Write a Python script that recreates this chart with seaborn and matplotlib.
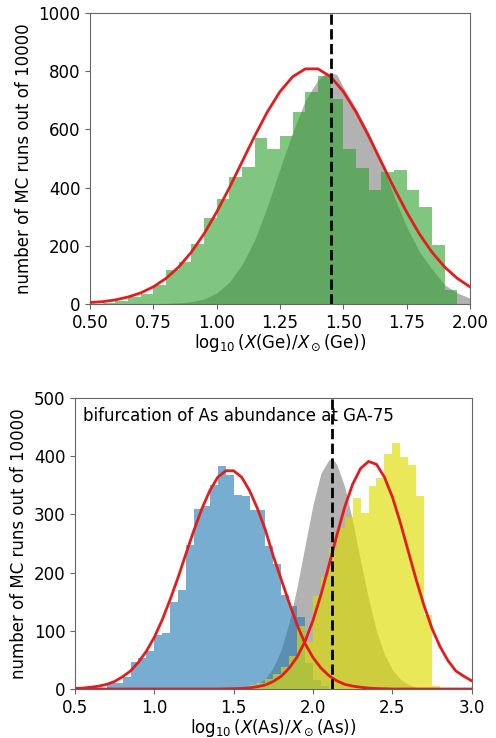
import numpy as np
import pandas as pd
import matplotlib
matplotlib.use("Agg")
import matplotlib.pyplot as plt
import seaborn as sns

# ---------------- data: top panel (Ge) ----------------
ge_bin_left = [0.55, 0.60, 0.65, 0.70, 0.75, 0.80, 0.85, 0.90, 0.95, 1.00,
               1.05, 1.10, 1.15, 1.20, 1.25, 1.30, 1.35, 1.40, 1.45, 1.50,
               1.55, 1.60, 1.65, 1.70, 1.75, 1.80, 1.85, 1.90]
ge_counts = [2, 10, 24, 35, 67, 117, 145, 206, 296, 361,
             436, 470, 571, 532, 579, 660, 729, 783, 706, 531,
             466, 392, 452, 460, 393, 334, 203, 48]

ge_gray_x = [0.70, 0.75, 0.80, 0.85, 0.90, 0.95, 1.00, 1.05, 1.10, 1.15, 1.20,
             1.25, 1.30, 1.35, 1.40, 1.425, 1.45, 1.475, 1.50, 1.55, 1.60, 1.65,
             1.70, 1.75, 1.80, 1.85, 1.90, 1.95, 2.00, 2.05]
ge_gray_y = [0, 1, 2, 4, 8, 17, 38, 75, 135, 220, 335,
             465, 590, 700, 770, 790, 795, 788, 745, 672, 590, 490,
             370, 265, 180, 120, 66, 38, 20, 9]

ge_fit_x = [0.50, 0.55, 0.60, 0.65, 0.70, 0.75, 0.80, 0.85, 0.90, 0.95, 1.00,
            1.05, 1.10, 1.15, 1.20, 1.25, 1.30, 1.35, 1.40, 1.45, 1.50,
            1.55, 1.60, 1.65, 1.70, 1.75, 1.80, 1.85, 1.90, 1.95, 2.00]
ge_fit_y = [5, 8, 14, 24, 38, 59, 88, 127, 178, 241, 316,
            399, 488, 577, 660, 730, 781, 808, 808, 781, 730,
            660, 577, 488, 399, 316, 241, 178, 127, 88, 59]
ge_solar = 1.45

# ---------------- data: bottom panel (As) ----------------
as_blue_left = [0.70, 0.75, 0.80, 0.85, 0.90, 0.95, 1.00, 1.05, 1.10, 1.15,
                1.20, 1.25, 1.30, 1.35, 1.40, 1.45, 1.50, 1.55, 1.60, 1.65,
                1.70, 1.75, 1.80, 1.85, 1.90, 1.95, 2.00, 2.05]
as_blue_counts = [10, 10, 20, 47, 54, 66, 93, 96, 149, 170,
                  248, 310, 315, 350, 383, 368, 333, 331, 307, 307,
                  245, 215, 161, 142, 123, 45, 15, 5]

as_yellow_left = [1.60, 1.65, 1.70, 1.75, 1.80, 1.85, 1.90, 1.95, 2.00, 2.05,
                  2.10, 2.15, 2.20, 2.25, 2.30, 2.35, 2.40, 2.45, 2.50, 2.55,
                  2.60, 2.65, 2.70, 2.75]
as_yellow_counts = [7, 11, 18, 26, 38, 57, 108, 81, 159, 193,
                    242, 276, 295, 328, 303, 349, 362, 404, 422, 399,
                    385, 332, 128, 5]

as_gray_x = [1.50, 1.55, 1.60, 1.65, 1.70, 1.75, 1.80, 1.85, 1.90, 1.95, 2.00,
             2.05, 2.10, 2.125, 2.15, 2.20, 2.25, 2.30, 2.35, 2.40, 2.45,
             2.50, 2.55, 2.60, 2.65, 2.70, 2.75]
as_gray_y = [0, 1, 3, 8, 18, 37, 68, 115, 176, 247, 317,
             371, 394, 395, 386, 347, 288, 220, 155, 100, 60,
             33, 17, 8, 3, 1, 0]

as_fit_x = [0.50, 0.55, 0.60, 0.65, 0.70, 0.75, 0.80, 0.85, 0.90, 0.95,
            1.00, 1.05, 1.10, 1.15, 1.20, 1.25, 1.30, 1.35, 1.40, 1.45,
            1.50, 1.55, 1.60, 1.65, 1.70, 1.75, 1.80, 1.85, 1.90, 1.95,
            2.00, 2.05, 2.10, 2.15, 2.20, 2.25, 2.30, 2.35, 2.40, 2.45,
            2.50, 2.55, 2.60, 2.65, 2.70, 2.75, 2.80, 2.85, 2.90, 2.95, 3.00]
as_fit1_y = [0.9, 1.6, 3, 5, 8, 13, 21, 31, 46, 65,
             89, 119, 154, 192, 233, 273, 310, 341, 364, 375,
             375, 364, 341, 310, 273, 228, 188, 148, 110, 78,
             54, 36, 23, 14, 8, 5, 3, 1.5, 0.8, 0.4,
             0, 0, 0, 0, 0, 0, 0, 0, 0, 0, 0]
as_fit2_y = [0, 0, 0, 0, 0, 0, 0, 0, 0, 0,
             0, 0, 0, 0, 0, 0, 0, 0, 0.1, 0.3,
             0.5, 1, 2, 4, 7, 13, 22, 36, 55, 82,
             118, 162, 212, 264, 313, 352, 379, 391, 386, 364,
             330, 286, 237, 188, 143, 104, 73, 49, 31, 22, 14]
as_solar = 2.12

BIN_W = 0.05
as_note = "bifurcation of As abundance at GA-75"
ylab = "number of MC runs out of 10000"

# ---------------- figure ----------------
plt.rcParams["font.family"] = ["DejaVu Sans"]
plt.rcParams["font.size"] = 12
plt.rcParams["mathtext.fontset"] = "dejavusans"
plt.rcParams["axes.edgecolor"] = "0.4"
plt.rcParams["xtick.color"] = "0.4"
plt.rcParams["ytick.color"] = "0.4"
plt.rcParams["xtick.labelcolor"] = "black"
plt.rcParams["ytick.labelcolor"] = "black"

fig = plt.figure(figsize=(4.96, 7.38), dpi=100)
ax1 = fig.add_axes([90 / 496, 1 - 304 / 738, 380 / 496, 291 / 738])
ax2 = fig.add_axes([75 / 496, 1 - 689 / 738, 396.7 / 496, 291 / 738])

red = "#e21d1d"


def hist(ax, lefts, counts, color, alpha, z):
    lefts = np.asarray(lefts, dtype=float)
    df = pd.DataFrame({"center": lefts + BIN_W / 2,
                       "count": np.asarray(counts, dtype=float)})
    sns.histplot(data=df, x="center", weights="count", binwidth=BIN_W,
                 binrange=(lefts[0], lefts[-1] + BIN_W), ax=ax, color=color,
                 alpha=alpha, linewidth=0, edgecolor="none", zorder=z)


# top panel
ax1.fill_between(ge_gray_x, ge_gray_y, 0, color="gray", alpha=0.6, lw=0, zorder=1)
hist(ax1, ge_bin_left, ge_counts, "#2ca02c", 0.6, 2)
sns.lineplot(x=ge_fit_x, y=ge_fit_y, ax=ax1, color=red, lw=2, zorder=4)
ax1.axvline(ge_solar, color="black", ls="--", lw=2, zorder=5)
ax1.set_xlim(0.5, 2.0)
ax1.set_ylim(0, 1000)
ax1.set_xticks([0.50, 0.75, 1.00, 1.25, 1.50, 1.75, 2.00])
ax1.set_xticklabels(["0.50", "0.75", "1.00", "1.25", "1.50", "1.75", "2.00"])
ax1.set_yticks([0, 200, 400, 600, 800, 1000])
ax1.set_xlabel(r"$\log_{10}(X({\rm Ge})/X_\odot({\rm Ge}))$", labelpad=0.5)
ax1.set_ylabel(ylab)

# bottom panel
ax2.fill_between(as_gray_x, as_gray_y, 0, color="gray", alpha=0.6, lw=0, zorder=1)
hist(ax2, as_blue_left, as_blue_counts, "#1f77b4", 0.6, 2)
hist(ax2, as_yellow_left, as_yellow_counts, "#dddd00", 0.65, 3)
sns.lineplot(x=as_fit_x, y=as_fit1_y, ax=ax2, color=red, lw=2, zorder=4)
sns.lineplot(x=as_fit_x, y=as_fit2_y, ax=ax2, color=red, lw=2, zorder=4)
ax2.axvline(as_solar, color="black", ls="--", lw=2, zorder=5)
ax2.set_xlim(0.5, 3.0)
ax2.set_ylim(0, 500)
ax2.set_xticks([0.5, 1.0, 1.5, 2.0, 2.5, 3.0])
ax2.set_yticks([0, 100, 200, 300, 400, 500])
ax2.set_xlabel(r"$\log_{10}(X({\rm As})/X_\odot({\rm As}))$", labelpad=0.5)
ax2.set_ylabel(ylab)
ax2.text(0.02, 0.97, as_note, transform=ax2.transAxes, va="top", ha="left",
         fontsize=12, zorder=6)

fig.savefig("out.png", dpi=100)
